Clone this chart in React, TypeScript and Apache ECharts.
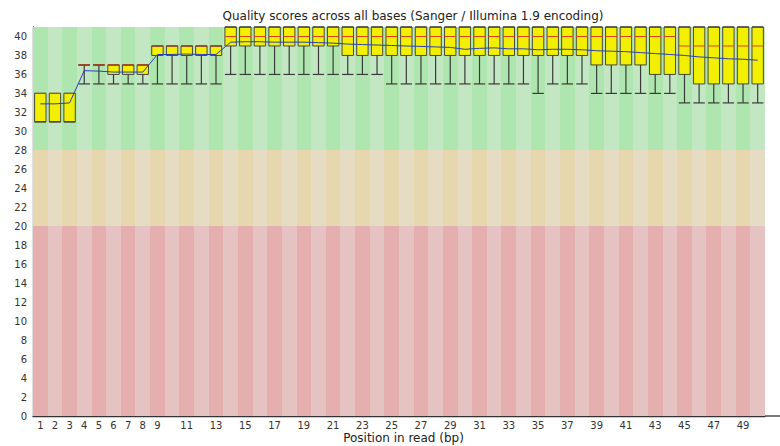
import { useEffect, useRef } from "react";
import * as echarts from "echarts";

const positions = [
  "1","2","3","4","5","6","7","8","9","10",
  "11","12","13","14","15","16","17","18","19","20",
  "21","22","23","24","25","26","27","28","29","30",
  "31","32","33","34","35","36","37","38","39","40",
  "41","42","43","44","45","46","47","48","49","50",
];

// 10th percentile (lower whisker)
const lower10 = [
  31,31,31,35,35,35,35,35,35,35,
  35,35,35,36,36,36,36,36,36,36,
  36,36,36,36,35,35,35,35,35,35,
  35,35,35,35,34,35,35,35,34,34,
  34,34,34,34,33,33,33,33,33,33,
];
// lower quartile
const q1 = [
  31,31,31,37,37,36,36,36,38,38,
  38,38,38,39,39,39,39,39,39,39,
  39,38,38,38,38,38,38,38,38,38,
  38,38,38,38,38,38,38,38,37,37,
  37,37,36,36,36,35,35,35,35,35,
];
// median
const median = [
  34,34,34,37,37,37,37,37,39,39,
  39,39,39,40,40,40,40,40,40,40,
  40,40,40,40,40,40,40,40,40,40,
  40,40,40,40,40,40,40,40,40,40,
  40,40,40,40,39,39,39,39,39,39,
];
// upper quartile
const q3 = [
  34,34,34,37,37,37,37,37,39,39,
  39,39,39,41,41,41,41,41,41,41,
  41,41,41,41,41,41,41,41,41,41,
  41,41,41,41,41,41,41,41,41,41,
  41,41,41,41,41,41,41,41,41,41,
];
// 90th percentile (upper whisker)
const upper90 = [
  34,34,34,37,37,37,37,37,39,39,
  39,39,39,41,41,41,41,41,41,41,
  41,41,41,41,41,41,41,41,41,41,
  41,41,41,41,41,41,41,41,41,41,
  41,41,41,41,41,41,41,41,41,41,
];
// mean quality
const meanQ = [
  32.9,32.9,33.0,36.4,36.35,36.25,36.25,36.25,38.1,38.1,
  38.15,38.1,38.1,39.4,39.45,39.45,39.4,39.4,39.4,39.35,
  39.3,39.2,39.15,39.1,39.05,39.0,38.95,38.9,38.85,38.65,
  38.75,38.8,38.7,38.7,38.6,38.65,38.65,38.6,38.5,38.45,
  38.4,38.3,38.2,38.1,38.0,37.85,37.75,37.65,37.6,37.5,
];

// quality bands: low, high
const bandNames = ["good", "warn", "bad"];
const bandLow = [28, 20, 0];
const bandHigh = [41, 28, 20];

const title = "Quality scores across all bases (Sanger / Illumina 1.9 encoding)";
const xName = "Position in read (bp)";

const bandColors: Record<string, [string, string]> = {
  good: ["#afe6af", "#c3e6c3"],
  warn: ["#e6d7af", "#e6dcc3"],
  bad: ["#e6afaf", "#e6c3c3"],
};

const FONT = "DejaVu Sans";

export default function App() {
  const ref = useRef<HTMLDivElement>(null);
  useEffect(() => {
    if (!ref.current) return;
    const chart = echarts.init(ref.current, undefined, { renderer: "svg" });

    const bgData: number[][] = [];
    positions.forEach((_, i) => {
      bandNames.forEach((_, b) => bgData.push([i, bandLow[b], bandHigh[b], b]));
    });
    const boxData = positions.map((_, i) => [i, lower10[i], q1[i], median[i], q3[i], upper90[i]]);

    chart.setOption({
      animation: false,
      backgroundColor: "#ffffff",
      title: {
        text: title,
        left: 408,
        top: 5,
        textAlign: "center",
        textStyle: { fontFamily: FONT, fontSize: 12, fontWeight: "normal", color: "#222" },
      },
      grid: { left: 33, right: 15, top: 27, bottom: 30 },
      xAxis: {
        type: "category",
        data: positions,
        boundaryGap: true,
        axisLine: { show: true, lineStyle: { color: "#333", width: 1.3 } },
        axisTick: { show: false },
        splitLine: { show: false },
        axisLabel: {
          interval: (idx: number) => idx < 9 || idx % 2 === 0,
          fontFamily: FONT,
          fontSize: 10,
          color: "#333",
          margin: 4,
        },
      },
      yAxis: {
        type: "value",
        min: 0,
        max: 41,
        interval: 2,
        axisLine: { show: true, lineStyle: { color: "#333", width: 1.3 } },
        axisTick: { show: false },
        splitLine: { show: false },
        axisLabel: {
          showMaxLabel: false,
          fontFamily: FONT,
          fontSize: 10,
          color: "#333",
          margin: 6,
        },
      },
      graphic: [
        {
          type: "text",
          x: 403.5,
          y: 438,
          style: {
            text: xName,
            fontFamily: FONT,
            fontSize: 12,
            fill: "#222",
            align: "center",
            verticalAlign: "middle",
          },
        },
        {
          type: "line",
          shape: { x1: 765, y1: 416, x2: 780, y2: 416 },
          style: { stroke: "#333", lineWidth: 1.3 },
        },
      ],
      series: [
        {
          type: "custom",
          name: "bands",
          silent: true,
          z: 1,
          data: bgData,
          renderItem: (_p: any, api: any) => {
            const i = api.value(0);
            const lo = api.coord([i, api.value(1)]);
            const hi = api.coord([i, api.value(2)]);
            const w = api.size([1, 0])[0];
            const x0 = Math.round(lo[0] - w / 2);
            const x1 = Math.round(lo[0] + w / 2);
            const y0 = Math.round(hi[1]);
            const y1 = Math.round(lo[1]);
            const c = bandColors[bandNames[api.value(3)]];
            return {
              type: "rect",
              shape: { x: x0, y: y0, width: x1 - x0, height: y1 - y0 },
              style: { fill: i % 2 === 0 ? c[0] : c[1] },
            };
          },
        },
        {
          type: "custom",
          name: "boxes",
          silent: true,
          z: 3,
          data: boxData,
          renderItem: (_p: any, api: any) => {
            const i = api.value(0);
            const pLow = api.coord([i, api.value(1)]);
            const pQ1 = api.coord([i, api.value(2)]);
            const pMed = api.coord([i, api.value(3)]);
            const pQ3 = api.coord([i, api.value(4)]);
            const pHigh = api.coord([i, api.value(5)]);
            const w = api.size([1, 0])[0] * 0.78;
            const cx = pQ1[0];
            const lw = { stroke: "#3a3a3a", lineWidth: 1.2 };
            return {
              type: "group",
              children: [
                {
                  type: "rect",
                  shape: { x: cx - w / 2, y: pQ3[1], width: w, height: pQ1[1] - pQ3[1] },
                  style: { fill: "#f2ef00", stroke: "#4a4a3a", lineWidth: 1 },
                },
                { type: "line", shape: { x1: cx, y1: pQ1[1], x2: cx, y2: pLow[1] }, style: lw },
                { type: "line", shape: { x1: cx - w / 2, y1: pLow[1], x2: cx + w / 2, y2: pLow[1] }, style: lw },
                { type: "line", shape: { x1: cx, y1: pQ3[1], x2: cx, y2: pHigh[1] }, style: lw },
                { type: "line", shape: { x1: cx - w / 2, y1: pHigh[1], x2: cx + w / 2, y2: pHigh[1] }, style: lw },
                {
                  type: "line",
                  shape: { x1: cx - w / 2, y1: pMed[1], x2: cx + w / 2, y2: pMed[1] },
                  style: { stroke: "#e0401a", lineWidth: 1 },
                },
              ],
            };
          },
        },
        {
          type: "line",
          name: "mean",
          data: meanQ,
          z: 5,
          symbol: "none",
          silent: true,
          lineStyle: { color: "#2a3fb8", width: 1 },
        },
      ],
    });
    return () => chart.dispose();
  }, []);
  return (
    <div
      ref={ref}
      style={{ position: "fixed", left: 0, top: 0, width: 780, height: 446 }}
    />
  );
}
